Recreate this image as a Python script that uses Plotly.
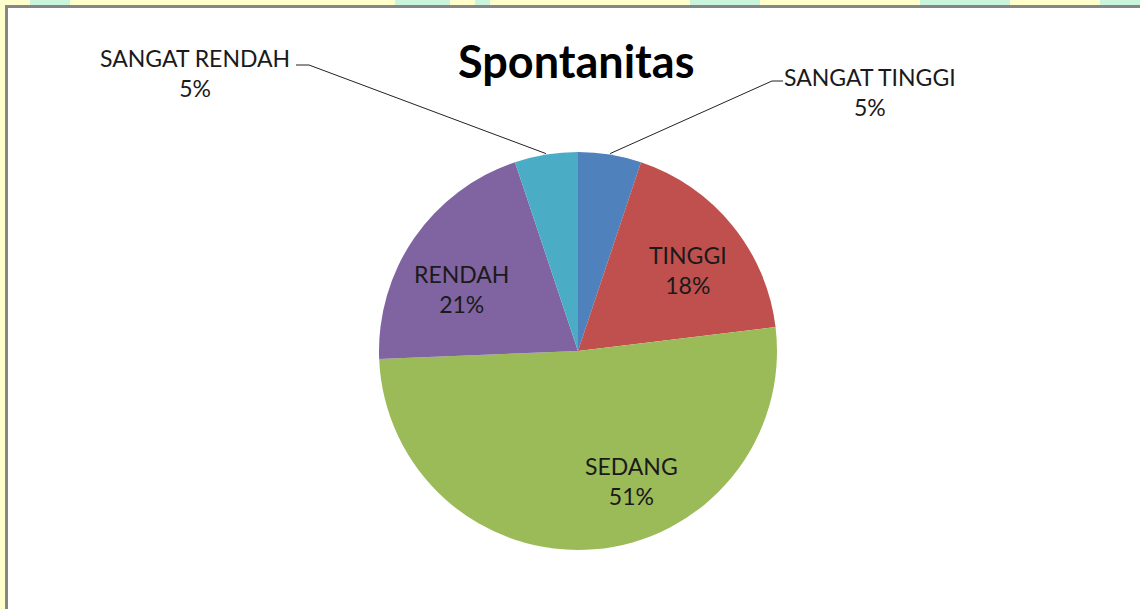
import math
import plotly.graph_objects as go

W, H = 1140, 609

# data (counts giving 5/18/51/21/5 %)
labels = ["SANGAT TINGGI", "TINGGI", "SEDANG", "RENDAH", "SANGAT RENDAH"]
counts = [2, 7, 20, 8, 2]
colors = ["#4F81BD", "#C0504D", "#9BBB59", "#8064A2", "#4BACC6"]
title = "Spontanitas"

FONT = "Lato"
LABEL_SIZE = 23

# pie placement in pixels
cx, cy, R = 578, 351, 199


def px(x):
    return x / W


def py(y):
    return 1 - y / H


total = sum(counts)
pcts = [c / total for c in counts]

fig = go.Figure()
fig.add_trace(go.Pie(
    labels=labels,
    values=counts,
    sort=False,
    direction="clockwise",
    rotation=0,
    marker=dict(colors=colors, line=dict(width=0)),
    textinfo="none",
    domain=dict(x=[px(cx - R), px(cx + R)], y=[py(cy + R), py(cy - R)]),
    showlegend=False,
    hoverinfo="label+percent",
))

# label placement (pixel centres of the two-line blocks), Excel "best fit" style
label_pos = {
    "SANGAT TINGGI": (870, 92),
    "TINGGI": (688, 270),
    "SEDANG": (632, 481),
    "RENDAH": (461, 289),
    "SANGAT RENDAH": (195, 73),
}
# leader lines for the small slices: horizontal stub (x0 -> x1 at y), then to slice edge
leaders = {
    "SANGAT TINGGI": (783, 772, 81),
    "SANGAT RENDAH": (296, 309, 65),
}

shapes = []
annotations = []
cum = 0.0
for lab, p in zip(labels, pcts):
    mid = (cum + p / 2) * 2 * math.pi
    cum += p
    tx, ty = label_pos[lab]
    annotations.append(dict(
        x=px(tx), y=py(ty), xref="paper", yref="paper",
        text=f"{lab}<br>{p:.0%}", showarrow=False,
        xanchor="center", yanchor="middle", align="center",
        font=dict(family=FONT, size=LABEL_SIZE, color="#1A1A1A"),
    ))
    if lab in leaders:
        hx0, hx1, hy = leaders[lab]
        ex = cx + (R + 1) * math.sin(mid)
        ey = cy - (R + 1) * math.cos(mid)
        shapes.append(dict(
            type="path", xref="paper", yref="paper",
            path=f"M {px(hx0)},{py(hy)} L {px(hx1)},{py(hy)} L {px(ex)},{py(ey)}",
            line=dict(color="#222222", width=1),
        ))

# title
annotations.append(dict(
    x=px(576), y=py(61), xref="paper", yref="paper",
    text=f"<b>{title}</b>", showarrow=False,
    xanchor="center", yanchor="middle",
    font=dict(family=FONT, size=45, color="#000000"),
))

# background: yellowish page, green watermark bits, white chart frame
bg_shapes = []
for x0, x1 in [(30, 70), (395, 450), (475, 490), (690, 760), (920, 1010), (1100, 1140)]:
    bg_shapes.append(dict(type="rect", xref="paper", yref="paper",
                          x0=px(x0), x1=px(x1), y0=py(6), y1=1,
                          fillcolor="#C8F5DC", line=dict(width=0), layer="below"))
bg_shapes.append(dict(type="rect", xref="paper", yref="paper",
                      x0=px(6.5), x1=1.01, y0=-0.01, y1=py(6.5),
                      fillcolor="#FFFFFF", line=dict(color="#868686", width=3),
                      layer="below"))

fig.update_layout(
    width=W, height=H,
    margin=dict(l=0, r=0, t=0, b=0),
    paper_bgcolor="#FFFFCC",
    plot_bgcolor="#FFFFFF",
    shapes=bg_shapes + shapes,
    annotations=annotations,
)

# drop the browser's default body margin so the figure sits at (0, 0)
fig.write_html("out.html",
               config={"displayModeBar": False},
               post_script="document.body.style.margin='0';document.body.style.overflow='hidden';")
